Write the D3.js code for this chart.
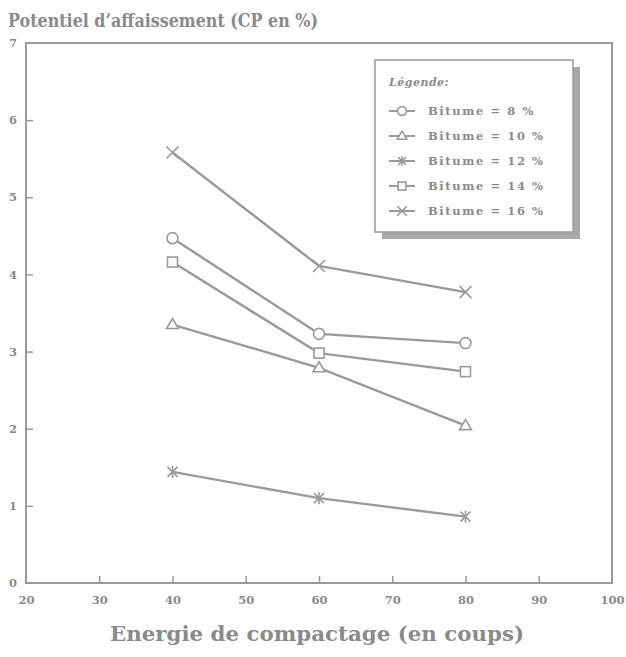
<!DOCTYPE html>
<html>
<head>
<meta charset="utf-8">
<script src="https://cdn.jsdelivr.net/npm/d3@7/dist/d3.min.js"></script>
<style>
  body { margin: 0; background: #fff; }
  svg text { font-family: "DejaVu Serif", "Liberation Serif", serif; fill: #8a8a8a; font-weight: bold; }
  .tick line { stroke: #9a9a9a; stroke-width: 1.5; }
</style>
</head>
<body>
<div id="chart"></div>
<script>
// data
var energie = [40, 60, 80];
var bitume8 = [4.47, 3.23, 3.11];
var bitume10 = [3.35, 2.79, 2.04];
var bitume12 = [1.44, 1.10, 0.86];
var bitume14 = [4.16, 2.98, 2.74];
var bitume16 = [5.58, 4.11, 3.77];
var seriesNames = ["Bitume = 8 %", "Bitume = 10 %", "Bitume = 12 %", "Bitume = 14 %", "Bitume = 16 %"];
var markers = ["circle", "triangle", "asterisk", "square", "cross"];
var xTicks = [20, 30, 40, 50, 60, 70, 80, 90, 100];
var yTicks = [0, 1, 2, 3, 4, 5, 6, 7];

var series = [bitume8, bitume10, bitume12, bitume14, bitume16].map(function(vals, i) {
  return { name: seriesNames[i], marker: markers[i], values: vals.map(function(v, j) { return { x: energie[j], y: v }; }) };
});

var width = 626, height = 657;
var margin = {top: 43, right: 14, bottom: 74, left: 26};
var lineColor = "#9a9a9a";

var svg = d3.select("#chart").append("svg")
  .attr("width", width)
  .attr("height", height);

var xScale = d3.scaleLinear().domain([20, 100]).range([margin.left, width - margin.right]);
var yScale = d3.scaleLinear().domain([0, 7]).range([height - margin.bottom, margin.top]);

// frame
svg.append("rect")
  .attr("x", xScale(20)).attr("y", yScale(7))
  .attr("width", xScale(100) - xScale(20))
  .attr("height", yScale(0) - yScale(7))
  .attr("fill", "none")
  .attr("stroke", lineColor)
  .attr("stroke-width", 2);

var xAxis = svg.append("g")
  .attr("transform", "translate(0," + yScale(0) + ")")
  .call(d3.axisBottom(xScale).tickValues(xTicks).tickSize(-7).tickPadding(13).tickFormat(d3.format("d")));
xAxis.select(".domain").remove();
xAxis.selectAll("text").style("font-size", "11.5px");
// no tick line on the frame ends
xAxis.selectAll(".tick line").filter(function(d) { return d == 20 || d == 100; }).remove();

var yAxis = svg.append("g")
  .attr("transform", "translate(" + xScale(20) + ",0)")
  .call(d3.axisLeft(yScale).tickValues(yTicks).tickSize(-7).tickPadding(9).tickFormat(d3.format("d")));
yAxis.select(".domain").remove();
yAxis.selectAll("text").style("font-size", "11.5px");
yAxis.selectAll(".tick line").filter(function(d) { return d == 0 || d == 7; }).remove();

// titles
svg.append("text")
  .attr("x", 8).attr("y", 27)
  .style("font-size", "19px")
  .attr("textLength", 310)
  .attr("lengthAdjust", "spacingAndGlyphs")
  .text("Potentiel d\u2019affaissement (CP en %)");

svg.append("text")
  .attr("x", 317).attr("y", 641)
  .attr("text-anchor", "middle")
  .style("font-size", "21px")
  .attr("textLength", 414)
  .attr("lengthAdjust", "spacingAndGlyphs")
  .text("Energie de compactage (en coups)");

// marker drawing
function drawMarker(g, type, s) {
  var stroke = { fill: "#fff", stroke: lineColor, "stroke-width": 1.6 };
  function apply(sel) { for (var k in stroke) sel.attr(k, stroke[k]); return sel; }
  if (type == "circle") {
    apply(g.append("circle").attr("r", s * 0.55));
  } else if (type == "square") {
    apply(g.append("rect").attr("x", -s * 0.5).attr("y", -s * 0.5).attr("width", s).attr("height", s));
  } else if (type == "triangle") {
    apply(g.append("path").attr("d", "M0," + (-s * 0.6) + "L" + (s * 0.6) + "," + (s * 0.4) + "L" + (-s * 0.6) + "," + (s * 0.4) + "Z"));
  } else if (type == "cross") {
    apply(g.append("path").attr("d", "M" + (-s * 0.6) + "," + (-s * 0.6) + "L" + (s * 0.6) + "," + (s * 0.6) + "M" + (s * 0.6) + "," + (-s * 0.6) + "L" + (-s * 0.6) + "," + (s * 0.6)));
  } else if (type == "asterisk") {
    apply(g.append("path").attr("d", "M" + (-s * 0.5) + "," + (-s * 0.5) + "L" + (s * 0.5) + "," + (s * 0.5) + "M" + (s * 0.5) + "," + (-s * 0.5) + "L" + (-s * 0.5) + "," + (s * 0.5) + "M0," + (-s * 0.6) + "L0," + (s * 0.6)));
  }
}

var line = d3.line().x(function(d) { return xScale(d.x); }).y(function(d) { return yScale(d.y); });

var lines = svg.append("g").attr("id", "lines");
series.forEach(function(s) {
  lines.append("path")
    .datum(s.values)
    .attr("d", line)
    .attr("fill", "none")
    .attr("stroke", lineColor)
    .attr("stroke-width", 2.4);
  s.values.forEach(function(d) {
    var g = lines.append("g").attr("transform", "translate(" + xScale(d.x) + "," + yScale(d.y) + ")");
    drawMarker(g, s.marker, 10);
  });
});

// legend
var legend = svg.append("g").attr("transform", "translate(375,60)");
legend.append("rect")
  .attr("x", 7).attr("y", 7).attr("width", 198).attr("height", 172)
  .attr("fill", "#a8a8a8");
legend.append("rect")
  .attr("x", 0).attr("y", 0).attr("width", 198).attr("height", 172)
  .attr("fill", "#fff").attr("stroke", "#9a9a9a").attr("stroke-width", 1.5);
legend.append("text")
  .attr("x", 14).attr("y", 26)
  .style("font-size", "11px").style("font-style", "italic")
  .style("letter-spacing", "0.5px")
  .text("Légende:");
series.forEach(function(s, i) {
  var yy = 51 + i * 25;
  legend.append("line")
    .attr("x1", 14).attr("x2", 40).attr("y1", yy).attr("y2", yy)
    .attr("stroke", lineColor).attr("stroke-width", 2);
  var g = legend.append("g").attr("transform", "translate(27," + yy + ")");
  drawMarker(g, s.marker, 8);
  legend.append("text")
    .attr("x", 53).attr("y", yy + 4)
    .style("font-size", "11.5px")
    .style("letter-spacing", "1.6px")
    .text(s.name);
});
</script>
</body>
</html>
